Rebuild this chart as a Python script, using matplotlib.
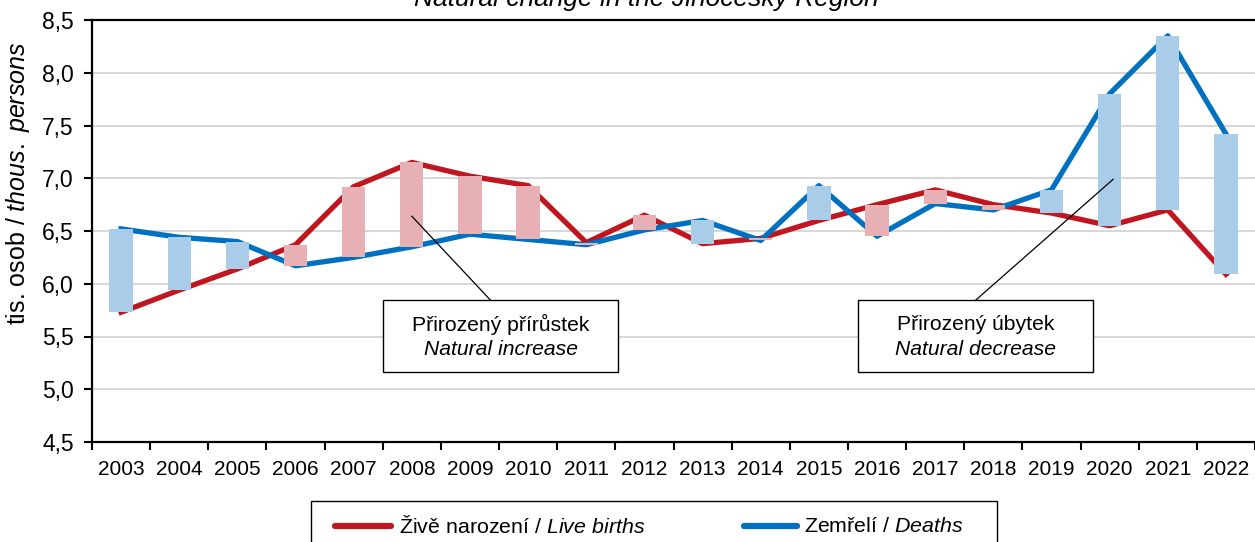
import matplotlib.pyplot as plt
import numpy as np
from matplotlib.lines import Line2D
from matplotlib.patches import Rectangle
from matplotlib.ticker import FixedLocator, FuncFormatter

plt.rcParams['font.family'] = ['Liberation Sans', 'DejaVu Sans']
plt.rcParams['mathtext.fontset'] = 'custom'
plt.rcParams['mathtext.rm'] = 'Liberation Sans'
plt.rcParams['mathtext.it'] = 'Liberation Sans:italic'

# data (thousands of persons)
years = [str(y) for y in range(2003, 2023)]
births = [5.73, 5.94, 6.14, 6.37, 6.92, 7.15, 7.02, 6.93, 6.39, 6.65,
          6.38, 6.43, 6.60, 6.75, 6.89, 6.75, 6.67, 6.55, 6.70, 6.09]
deaths = [6.52, 6.44, 6.40, 6.17, 6.25, 6.35, 6.47, 6.42, 6.37, 6.51,
          6.60, 6.41, 6.93, 6.45, 6.76, 6.70, 6.89, 7.80, 8.35, 7.42]

red = '#C0161F'
blue = '#0070C0'
pink = '#E6B0B5'
lightblue = '#A9CDE8'

births = np.array(births)
deaths = np.array(deaths)
x = np.arange(len(years))

W, H = 1255, 542
fig = plt.figure(figsize=(W / 100, H / 100), dpi=100)
ax = fig.add_axes([92 / W, 1 - 442 / H, 1 - 92 / W, (442 - 20) / H])

ax.plot(x, births, color=red, lw=3.8, zorder=3)
ax.plot(x, deaths, color=blue, lw=3.8, zorder=3)

# floating bars between the two lines
low = np.minimum(births, deaths)
high = np.maximum(births, deaths)
colors = [pink if b > d else lightblue for b, d in zip(births, deaths)]
ax.bar(x, high - low, bottom=low, width=0.4, color=colors, zorder=4)

ax.set_xlim(-0.5, len(years) - 0.5)
ax.set_ylim(4.5, 8.5)
ax.set_yticks(np.arange(4.5, 8.51, 0.5))
ax.yaxis.set_major_formatter(FuncFormatter(lambda v, p: f'{v:.1f}'.replace('.', ',')))
ax.set_xticks(x)
ax.set_xticklabels(years)
ax.xaxis.set_minor_locator(FixedLocator(np.arange(-0.5, len(years), 1.0)))
ax.tick_params(axis='x', which='major', length=0, labelsize=15, pad=13)
ax.tick_params(axis='x', which='minor', length=6, width=1.5, direction='out')
ax.tick_params(axis='y', length=6, width=1.5, labelsize=16.5, direction='out', pad=7)

ax.grid(axis='y', color='#D0D0D0', lw=1.2, zorder=0)
ax.set_axisbelow(True)
for s in ['left', 'bottom', 'top']:
    ax.spines[s].set_linewidth(1.6)
    ax.spines[s].set_color('black')
ax.spines['right'].set_visible(False)

fig.text(18 / W, 1 - 183 / H, r'tis. osob / $\it{thous.\ persons}$', rotation=90,
         ha='center', va='center', fontsize=18)

fig.text(646 / W, 1 - 6 / H, 'Natural change in the Jihočeský Region', ha='center',
         va='baseline', fontsize=19, style='italic')

# callout boxes
boxes = [
    (4.51, 8.54, 'Přirozený přírůstek', 'Natural increase', (6.35, 5.0, 6.64)),
    (12.67, 16.71, 'Přirozený úbytek', 'Natural decrease', (14.70, 17.06, 6.99)),
]
for x0, x1, l1, l2, (ax0, ax1, ay1) in boxes:
    y0, y1 = 5.163, 5.846
    ax.add_patch(Rectangle((x0, y0), x1 - x0, y1 - y0, facecolor='white',
                           edgecolor='black', lw=1.0, zorder=6))
    xc = (x0 + x1) / 2
    ax.text(xc, y0 + (y1 - y0) * 0.66, l1, ha='center', va='center', fontsize=15.2, zorder=7)
    ax.text(xc, y0 + (y1 - y0) * 0.31, l2, ha='center', va='center', fontsize=15.2,
            style='italic', zorder=7)
    ax.plot([ax0, ax1], [y1, ay1], color='black', lw=0.9, zorder=6)

# legend, drawn by hand so the frame runs off the bottom edge like the reference
fig.add_artist(Rectangle((311 / W, -0.05), (997 - 311) / W, 1 - 501 / H + 0.05,
                         transform=fig.transFigure, facecolor='white',
                         edgecolor='black', lw=1.0))
entries = [
    (red, 335, 391, 399, r'Živě narození / $\it{Live\ births}$'),
    (blue, 744, 797, 804, r'Zemřelí / $\it{Deaths}$'),
]
ly = 1 - 526 / H
for c, h0, h1, tx, label in entries:
    fig.add_artist(Line2D([h0 / W, h1 / W], [ly, ly], transform=fig.transFigure,
                          color=c, lw=4.5, solid_capstyle='round'))
    fig.text(tx / W, ly, label, ha='left', va='center', fontsize=15.4)

fig.savefig('out.png', dpi=100)
